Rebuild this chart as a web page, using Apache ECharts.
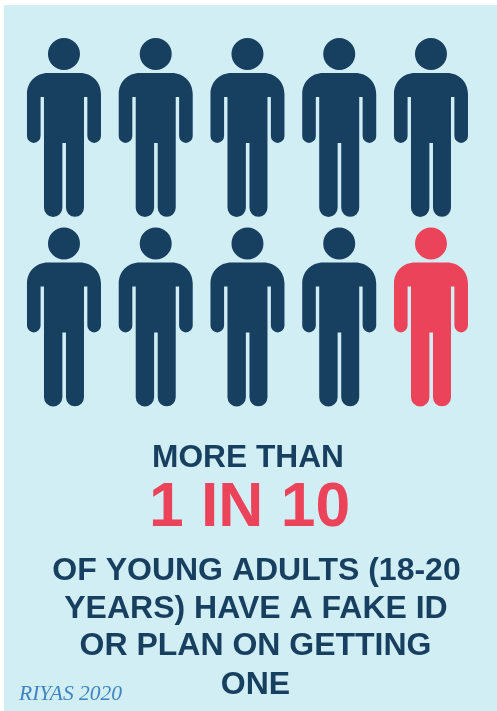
<!DOCTYPE html>
<html><head><meta charset="utf-8">
<style>html,body{margin:0;padding:0;background:#fff}#c{width:497px;height:711px}</style>
<script src="https://cdn.jsdelivr.net/npm/echarts@6/dist/echarts.min.js"></script>
</head><body><div id="c"></div>
<script>
const columns = ['1','2','3','4','5'];
const rows = ['top','bottom'];
// 1 = dark figure, 0 = highlighted figure, row by row
const topRow = [1,1,1,1,1];
const bottomRow = [1,1,1,1,0];
const headline = 'MORE THAN';
const bigStat = '1 IN 10';
const bodyLines = ['OF YOUNG ADULTS (18-20','YEARS) HAVE A FAKE ID','OR PLAN ON GETTING','ONE'];
const credit = 'RIYAS 2020';

const DARK='#173F5F', RED='#EB435A', BG='#D1EEF4';
const person='path://M37 0A16 16 0 1 1 36.99 0ZM21 35H53C65 35 74 44 74 56V98A6.8 7 0 0 1 60.4 98V59H57V170A9 9 0 0 1 39 170V105H35.4V170A9 9 0 0 1 17 170V59H13.6V98A6.8 7 0 0 1 0 98V56C0 44 9 35 21 35Z';
const pts=[];
[topRow,bottomRow].forEach((r,ri)=>r.forEach((v,ci)=>pts.push({value:[columns[ci],rows[ri]],itemStyle:{color:v?DARK:RED,opacity:1}})));
const txt=(t,x,y,size,color)=>({type:'text',x,y,z:5,style:{text:t,fill:color,font:`bold ${size}px "Liberation Sans", Arial, sans-serif`,textAlign:'center',textVerticalAlign:'middle'}});
const chart=echarts.init(document.getElementById('c'),null,{renderer:'canvas'});
chart.setOption({
  animation:false,
  backgroundColor:'#fff',
  grid:{left:18.1,top:32.75,width:458.75,height:379},
  xAxis:{type:'category',data:columns,show:false},
  yAxis:{type:'category',data:rows,inverse:true,show:false},
  graphic:[
    {type:'rect',shape:{x:4,y:5,width:493,height:706},style:{fill:BG},z:-10,silent:true},
    txt(headline,248,458,31.7,DARK),
    txt(bigStat,249.5,509,62.4,RED),
    txt(bodyLines[0],256.5,571.5,32,DARK),
    txt(bodyLines[1],256,609,32,DARK),
    txt(bodyLines[2],255.5,646.5,32,DARK),
    txt(bodyLines[3],255.5,685.5,32,DARK),
    {type:'text',x:19,y:694,z:5,style:{text:credit,fill:'#3F84C0',font:'italic 21.5px "Liberation Serif", serif',textAlign:'left',textVerticalAlign:'middle'}}
  ],
  series:[{type:'scatter',data:pts,symbol:person,symbolSize:[74,179],silent:true}]
});
</script></body></html>
